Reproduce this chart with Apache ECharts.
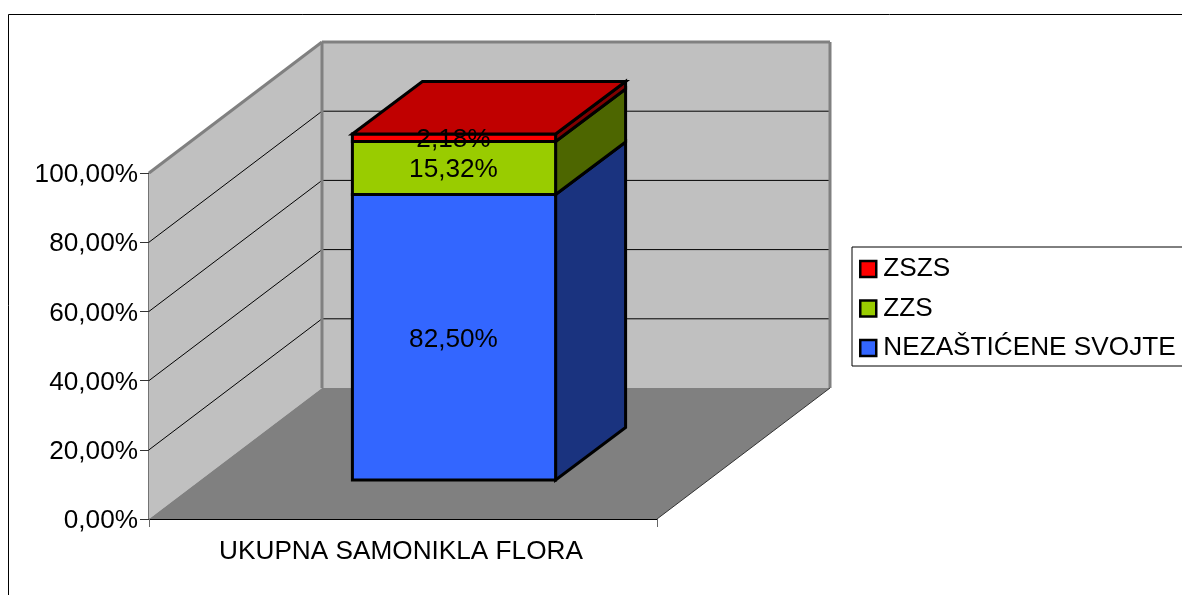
<!DOCTYPE html>
<html><head><meta charset="utf-8">
<style>html,body{margin:0;padding:0;background:#fff;overflow:hidden}#c{width:1182px;height:595px}</style>
<script src="https://cdn.jsdelivr.net/npm/echarts@6/dist/echarts.min.js"></script></head>
<body><div id="c"></div>
<script>
const categories = ['UKUPNA SAMONIKLA FLORA'];
const seriesNames = ['NEZAŠTIĆENE SVOJTE', 'ZZS', 'ZSZS'];
const nezasticene = [82.50];
const zzs = [15.32];
const zszs = [2.18];
const gridTicks = [20, 40, 60, 80, 100];
const FONT = 'Liberation Sans';
const FS = 26.2;
const WALL = {dx: 173, dy: 131};
const FRONT = {dx: 51, dy: 39};
const DEPTH = {dx: 70, dy: 52.5};
const BAR_RATIO = 0.4;
const pal = [
  {front: '#3366ff', side: '#1a337f', top: '#1a337f'},
  {front: '#99cc00', side: '#4d6600', top: '#4d6600'},
  {front: '#ff0000', side: '#800000', top: '#c00000'}
];
const fmtPct = v => v.toFixed(2).replace('.', ',') + '%';

function poly(points, fill, stroke, lw, z2) {
  return {type: 'polygon', shape: {points}, z2: z2 || 0,
    style: {fill: fill, stroke: stroke || 'none', lineWidth: lw || 0, lineJoin: 'miter'}};
}
function line(a, b, stroke, lw, z2) {
  return {type: 'line', shape: {x1: a[0], y1: a[1], x2: b[0], y2: b[1]}, z2: z2 || 0,
    style: {stroke, lineWidth: lw}};
}
function renderWalls(params, api) {
  const c0 = api.coord([0, 0]), c1 = api.coord([0, 100]);
  const half = api.size([1, 0])[0] / 2;
  const xL = c0[0] - half, xR = c0[0] + half, yB = c0[1], yT = c1[1];
  const d = WALL;
  const ch = [];
  ch.push(poly([[xL, yB], [xL, yT], [xL + d.dx, yT - d.dy], [xL + d.dx, yB - d.dy]], '#c0c0c0'));
  ch.push(poly([[xL + d.dx, yT - d.dy], [xR + d.dx, yT - d.dy], [xR + d.dx, yB - d.dy], [xL + d.dx, yB - d.dy]], '#c0c0c0'));
  ch.push(poly([[xL, yB], [xR, yB], [xR + d.dx, yB - d.dy], [xL + d.dx, yB - d.dy]], '#808080'));
  gridTicks.forEach(t => {
    const y = api.coord([0, t])[1];
    if (t < 100) {
      ch.push(line([xL, y], [xL + d.dx, y - d.dy], '#000', 1));
      ch.push(line([xL + d.dx, y - d.dy], [xR + d.dx, y - d.dy], '#000', 1));
    }
  });
  const g = '#808080';
  ch.push(line([xL, yT], [xL + d.dx, yT - d.dy], g, 3));
  ch.push(line([xL + d.dx, yT - d.dy], [xR + d.dx, yT - d.dy], g, 3));
  ch.push(line([xL + d.dx, yT - d.dy], [xL + d.dx, yB - d.dy], g, 3));
  ch.push(line([xR + d.dx, yT - d.dy], [xR + d.dx, yB - d.dy], g, 3));
  ch.push(line([xR, yB], [xR + d.dx, yB - d.dy], '#333', 1));
  return {type: 'group', children: ch};
}
function renderSegment(idx, values) {
  return function (params, api) {
    const cat = api.value(0);
    let start = 0;
    for (let i = 0; i < idx; i++) start += [nezasticene, zzs, zszs][i][cat];
    const end = start + values[cat];
    const a = api.coord([cat, start]), b = api.coord([cat, end]);
    const w = api.size([1, 0])[0] * BAR_RATIO;
    const xl = a[0] - w / 2 + FRONT.dx, xr = a[0] + w / 2 + FRONT.dx;
    const yb = a[1] - FRONT.dy, yt = b[1] - FRONT.dy;
    const d = DEPTH, col = pal[idx];
    const ch = [
      poly([[xr, yb], [xr, yt], [xr + d.dx, yt - d.dy], [xr + d.dx, yb - d.dy]], col.side, '#000', 3),
      poly([[xl, yb], [xl, yt], [xr, yt], [xr, yb]], col.front, '#000', 3)
    ];
    if (idx === 2) {
      ch.push(poly([[xl, yt], [xl + d.dx, yt - d.dy], [xr + d.dx, yt - d.dy], [xr, yt]], col.top, '#000', 3));
    }
    ch.push({type: 'text', z2: 100, style: {
      text: fmtPct(values[cat]), x: (xl + xr) / 2 - 0.5, y: (yb + yt) / 2 + 2,
      align: 'center', verticalAlign: 'middle', fill: '#000',
      font: FS + 'px "' + FONT + '"'
    }});
    return {type: 'group', children: ch};
  };
}
const chart = echarts.init(document.getElementById('c'), null, {renderer: 'canvas'});
chart.setOption({
  animation: false,
  backgroundColor: '#fff',
  textStyle: {fontFamily: FONT},
  grid: {left: 149, top: 173, width: 508, height: 346},
  graphic: [{type: 'rect', shape: {x: 8.5, y: 14.5, width: 1400, height: 800}, silent: true,
    style: {fill: 'none', stroke: '#000', lineWidth: 1}}],
  legend: {
    orient: 'vertical', left: 852, top: 247, padding: [9, 14, 5, 7],
    borderColor: '#000', borderWidth: 1, backgroundColor: '#fff',
    itemWidth: 16, itemHeight: 16, itemGap: 13.5,
    textStyle: {fontFamily: FONT, fontSize: FS, color: '#000', padding: [2, 0, 0, 2]},
    selectedMode: false,
    data: [2, 1, 0].map(i => ({name: seriesNames[i], icon: 'rect',
      itemStyle: {color: pal[i].front, borderColor: '#000', borderWidth: 2.5}}))
  },
  xAxis: {
    type: 'category', data: categories,
    axisLine: {lineStyle: {color: '#000', width: 1}},
    axisTick: {show: true, length: 8, alignWithLabel: false, lineStyle: {color: '#666', width: 1}},
    axisLabel: {fontFamily: FONT, fontSize: FS, color: '#000', margin: 20, padding: [0, 4, 0, 0]},
    splitLine: {show: false}
  },
  yAxis: {
    type: 'value', min: 0, max: 100, interval: 20,
    axisLine: {show: true, lineStyle: {color: '#444', width: 1.5}},
    axisTick: {show: true, length: 9, lineStyle: {color: '#333', width: 1}},
    axisLabel: {fontFamily: FONT, fontSize: FS, color: '#000', margin: 11, verticalAlign: 'top', lineHeight: 4, formatter: v => fmtPct(v)},
    splitLine: {show: false}
  },
  series: [
    {type: 'custom', name: '_walls', z: 1, silent: true, renderItem: renderWalls, data: [[0]], encode: {x: 0}},
    {type: 'custom', name: seriesNames[0], z: 3, renderItem: renderSegment(0, nezasticene),
      itemStyle: {color: pal[0].front}, data: nezasticene.map((v, i) => [i, v]), encode: {x: 0, y: 1}},
    {type: 'custom', name: seriesNames[1], z: 4, renderItem: renderSegment(1, zzs),
      itemStyle: {color: pal[1].front}, data: zzs.map((v, i) => [i, v]), encode: {x: 0, y: 1}},
    {type: 'custom', name: seriesNames[2], z: 5, renderItem: renderSegment(2, zszs),
      itemStyle: {color: pal[2].front}, data: zszs.map((v, i) => [i, v]), encode: {x: 0, y: 1}}
  ]
});
</script></body></html>
